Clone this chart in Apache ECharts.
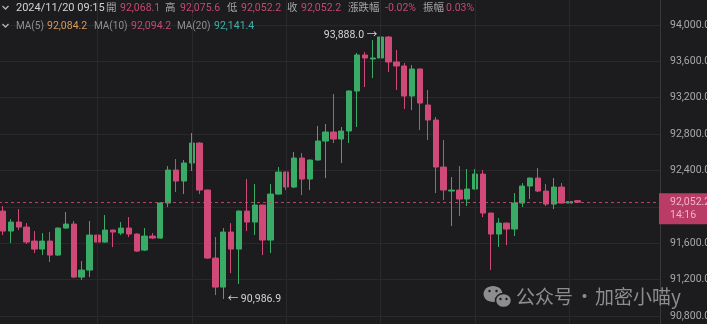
<!DOCTYPE html>
<html><head><meta charset="utf-8">
<script src="https://cdn.jsdelivr.net/npm/echarts@6/dist/echarts.min.js"></script>
<style>html,body{margin:0;padding:0;background:#1c1b1d;overflow:hidden}#c{width:707px;height:324px;}</style>
</head><body><div id="c"></div>
<script>
// ---- data (15-minute candles, last one = 2024/11/20 09:15) ----
const firstCandleTime = '2024/11/19 15:00';
const opens  = [91954,91734,91833,91778,91624,91536,91624,91470,91767,91811,91228,91305,91690,91613,91745,91712,91767,91701,91525,91679,91657,92042,92405,92284,92482,92702,92185,91437,91118,91723,91536,91954,91833,92020,91635,92141,92383,92218,92537,92306,92515,92724,92823,92746,92834,93274,93670,93626,93637,93868,93593,93549,93219,93516,93120,92955,92438,92174,92185,92086,92196,92361,91932,91701,91822,91756,92042,92229,92317,92174,92031,92218,92042,92068.1];
const closes = [91734,91833,91778,91613,91536,91624,91470,91767,91811,91228,91305,91690,91613,91745,91723,91767,91701,91514,91679,91657,92042,92405,92284,92482,92702,92185,91437,91118,91723,91536,91954,91833,92020,91635,92141,92383,92218,92537,92306,92515,92724,92823,92746,92834,93274,93670,93637,93637,93868,93593,93549,93219,93516,93142,92955,92438,92185,92185,92086,92196,92361,91932,91701,91822,91756,92042,92229,92317,92174,92031,92218,92042,92058,92052.2];
const lows   = [91690,91602,91745,91591,91492,91470,91393,91462,91760,91220,91195,91228,91492,91605,91558,91690,91668,91505,91514,91646,91650,91998,92163,92141,92394,92141,91430,91030,90986.9,91272,91151,91734,91690,91470,91492,92135,92185,92207,92130,92185,92510,92317,92702,92482,92702,92878,93318,93417,93098,93483,93285,93076,93065,92845,92735,92152,92075,91789,91899,92009,92190,91888,91305,91558,91580,91679,91998,92086,92163,92009,91976,92038,91998,92052.2];
const highs  = [92009,91866,91976,91822,91734,91712,91723,91775,91943,91844,91404,91844,91778,91910,91750,91833,91888,91708,91767,91712,92050,92449,92526,92515,92812,92710,92190,91668,91767,91822,91960,92306,92251,92025,92251,92438,92390,92603,92592,92520,92889,92911,93241,92878,93280,93692,93703,93835,93888.0,93879,93725,93582,93560,93520,93285,92988,92735,92328,92449,92416,92416,92405,91935,91877,91826,92152,92262,92322,92427,92251,92317,92262,92251,92075.6];
const emptySlots = 10;              // blank space on the right of the last candle
const yTickMin = 90400, yTickMax = 94400, yTickStep = 400;
const headerTime = '2024/11/20 09:15';
const headerFields = [['開','92,068.1'],['高','92,075.6'],['低','92,052.2'],['收','92,052.2'],['漲跌幅','-0.02%'],['振幅','0.03%']];
const maFields = [['MA(5)','92,084.2'],['MA(10)','92,094.2'],['MA(20)','92,141.4']];
const countdown = '14:16';
const watermark = ['公众号', '·', '加密小喵y'];

// ---- build categories ----
const categories = [];
{
  const t0 = new Date(firstCandleTime.replace(/\//g,'-').replace(' ','T') + ':00');
  const pad = n => String(n).padStart(2,'0');
  for (let i = 0; i < opens.length + emptySlots; i++) {
    const d = new Date(t0.getTime() + i*15*60000);
    categories.push(d.getFullYear()+'/'+pad(d.getMonth()+1)+'/'+pad(d.getDate())+' '+pad(d.getHours())+':'+pad(d.getMinutes()));
  }
}
const fmt = v => Number(v).toLocaleString('en-US',{minimumFractionDigits:1,maximumFractionDigits:1});

const GREEN = '#3aab66', PINK = '#cf4a77';
const LATIN = "Roboto, 'Noto Sans CJK TC', sans-serif";
const candleData = opens.map((o,i)=>[o, closes[i], lows[i], highs[i]]);
let maxIdx = 0, minIdx = 0;
highs.forEach((h,i)=>{ if (h > highs[maxIdx]) maxIdx = i; });
lows.forEach((l,i)=>{ if (l < lows[minIdx]) minIdx = i; });
const last = opens.length - 1;

const chart = echarts.init(document.getElementById('c'));
chart.setOption({
  backgroundColor: '#1c1b1d',
  animation: false,
  grid: { left: -1, right: 47, top: -11.4, bottom: -28.4, containLabel: false, outerBoundsMode: 'none' },
  xAxis: { type: 'category', data: categories, boundaryGap: true, show: false },
  yAxis: {
    type: 'value', position: 'right', min: yTickMin, max: yTickMax, interval: yTickStep,
    axisLine: { show: true, lineStyle: { color: '#38383b' } },
    axisTick: { show: false },
    splitLine: { show: true, lineStyle: { color: '#29292b', width: 1 } },
    axisLabel: { show: true, margin: 10, align: 'left', color: '#a9a9ab', fontSize: 10.5, fontFamily: LATIN, formatter: v => fmt(v) }
  },
  series: [
    {
      type: 'line', data: [], z: 1, silent: true,
      markLine: {
        silent: true, symbol: ['none','none'], label: { show: false },
        lineStyle: { color: '#29292b', type: 'solid', width: 1 },
        data: [12,24,36,48,60,72].map(i => ({ xAxis: categories[i] }))
      }
    },
    {
      type: 'candlestick', z: 3, data: candleData, barWidth: '74%',
      itemStyle: { color: GREEN, color0: PINK, borderColor: GREEN, borderColor0: PINK, borderWidth: 1 },
      markLine: {
        silent: true, symbol: ['none','none'], label: { show: false },
        data: [{ yAxis: closes[last], lineStyle: { color: PINK, type: [3,3], width: 1, opacity: 0.85 } }]
      },
      markPoint: {
        silent: true, symbol: 'circle', symbolSize: 1, itemStyle: { color: 'rgba(0,0,0,0)' },
        label: { show: true, color: '#d4d4d6', fontSize: 10.5, fontFamily: LATIN },
        data: [
          { coord: [categories[maxIdx], highs[maxIdx]], label: { position: 'left', distance: 3, formatter: fmt(highs[maxIdx]) + ' →' } },
          { coord: [categories[minIdx], lows[minIdx]], label: { position: 'right', distance: 4, formatter: '← ' + fmt(lows[minIdx]) } }
        ]
      }
    }
  ]
});

// ---- overlay texts (header, price tag, watermark) ----
const py = chart.convertToPixel({ yAxisIndex: 0 }, closes[last]);
const G = [];
const txt = (x, y, text, fill, size, family) => G.push({ type: 'text', x, y, z: 100, silent: true, style: { text, fill, font: size + 'px ' + (family || LATIN), verticalAlign: 'middle', align: 'left' } });
// chevrons
[8, 26].forEach(y => G.push({ type: 'polyline', z: 100, silent: true, shape: { points: [[2.5, y-2], [5.5, y+1], [8.5, y-2]] }, style: { stroke: '#b5b5b7', lineWidth: 1.3, fill: null } }));
// header row 1
txt(16, 8.5, headerTime, '#d2d2d4', 11);
const row1X = [[106,120],[165,180],[227,241],[287,301],[348,385],[423,446]];
headerFields.forEach((f,i) => { txt(row1X[i][0], 8.5, f[0], '#a4a4a6', 10.5); txt(row1X[i][1], 8.5, f[1], '#c44a6f', 10.5); });
// header row 2
const maX = [[16,47],[94,131],[177,214]], maCol = ['#d49a5c', '#c44a6f', '#3fb0ad'];
maFields.forEach((f,i) => { txt(maX[i][0], 26, f[0], '#8f8f92', 10); txt(maX[i][1], 26, f[1], maCol[i], 10.5); });
// current price tag on the axis
G.push({ type: 'rect', z: 99, silent: true, shape: { x: 659, y: py - 9, width: 50, height: 31 }, style: { fill: '#b93c66' } });
txt(670, py, fmt(closes[last]), '#f4b3c8', 10.5);
txt(670, py + 13, countdown, '#f4b3c8', 10.5);
// watermark
const wm = '#8d8d8f';
G.push({ type: 'ellipse', z: 100, silent: true, shape: { cx: 493, cy: 294, rx: 9.5, ry: 8 }, style: { fill: wm } });
G.push({ type: 'ellipse', z: 100, silent: true, shape: { cx: 503.5, cy: 300.5, rx: 8, ry: 7 }, style: { fill: wm, stroke: '#1c1b1d', lineWidth: 1.5 } });
[[489.5,291],[496.5,291],[500.5,299],[506.5,299]].forEach(p => G.push({ type: 'circle', z: 100, silent: true, shape: { cx: p[0], cy: p[1], r: 1.2 }, style: { fill: '#1c1b1d' } }));
txt(516, 297, watermark[0], wm, 19, "'Noto Sans CJK SC', sans-serif");
txt(575, 297, watermark[1], wm, 19, "'Noto Sans CJK SC', sans-serif");
txt(595, 297, watermark[2], wm, 19, "'Noto Sans CJK SC', sans-serif");
chart.setOption({ graphic: G });
</script>
</body></html>
